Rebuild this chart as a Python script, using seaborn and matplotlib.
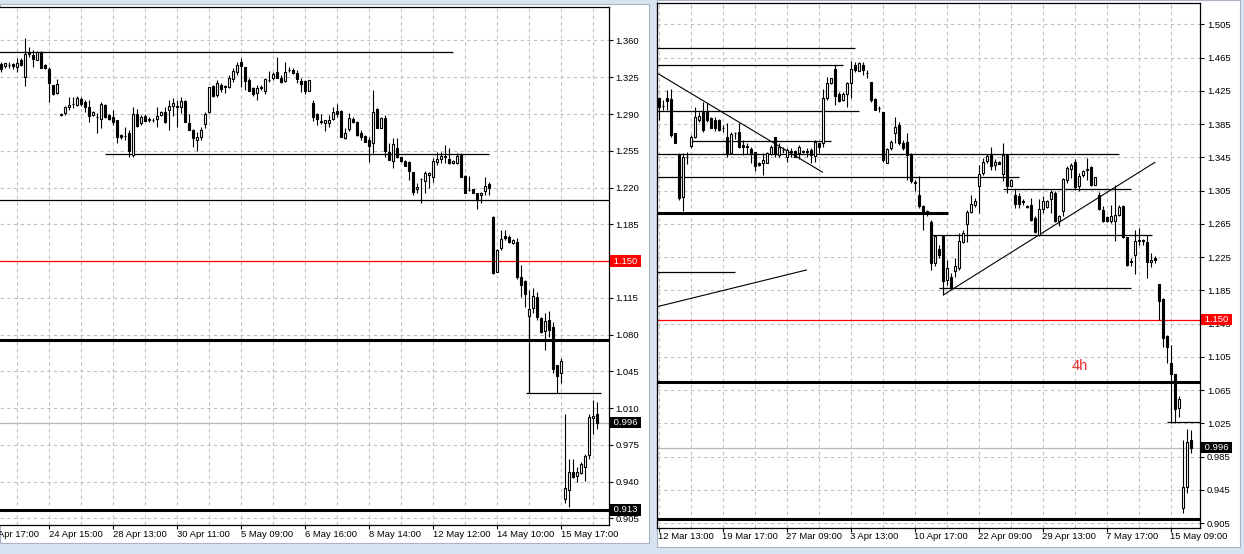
import numpy as np
import matplotlib
matplotlib.use("Agg")
import matplotlib.pyplot as plt
import matplotlib.transforms as mtransforms
from matplotlib.patches import Rectangle
import seaborn as sns

# --- Left window: hourly candles (index 0..149) ---
left_open = [
    1.3376, 1.3360, 1.3370, 1.3373, 1.3351, 1.3414, 1.3250, 1.3484, 1.3462, 1.3414,
    1.3488, 1.3367, 1.3329, 1.3176, 1.3100, 1.2888, 1.2907, 1.2964, 1.2995, 1.2983,
    1.3040, 1.3011, 1.2970, 1.2891, 1.2868, 1.2853, 1.2986, 1.2891, 1.2875, 1.2843,
    1.2700, 1.2694, 1.2716, 1.2510, 1.2897, 1.2811, 1.2881, 1.2850, 1.2840, 1.2850,
    1.2894, 1.2916, 1.2938, 1.2976, 1.2968, 1.2970, 1.3024, 1.2818, 1.2748, 1.2653,
    1.2684, 1.2802, 1.2916, 1.3170, 1.3081, 1.3176, 1.3162, 1.3161, 1.3230, 1.3303,
    1.3399, 1.3345, 1.3224, 1.3145, 1.3103, 1.3152, 1.3122, 1.3222, 1.3240, 1.3297,
    1.3246, 1.3215, 1.3318, 1.3316, 1.3294, 1.3215, 1.3215, 1.3119, 1.3002, 1.2900,
    1.2830, 1.2811, 1.2811, 1.2856, 1.2929, 1.2929, 1.2675, 1.2757, 1.2856, 1.2821,
    1.2716, 1.2691, 1.2653, 1.2621, 1.2948, 1.2770, 1.2859, 1.2542, 1.2453, 1.2573,
    1.2488, 1.2453, 1.2446, 1.2348, 1.2183, 1.2282, 1.2262, 1.2316, 1.2297, 1.2440,
    1.2469, 1.2494, 1.2472, 1.2430, 1.2430, 1.2519, 1.2310, 1.2178, 1.2186, 1.2145,
    1.2129, 1.2170, 1.2234, 1.1922, 1.1399, 1.1621, 1.1738, 1.1732, 1.1668, 1.1678,
    1.1351, 1.1309, 1.0976, 1.1049, 1.1160, 1.0954, 1.0836, 1.0938, 1.0868, 1.0509,
    1.0430, 0.9230, 0.9319, 0.9487, 0.9452, 0.9477, 0.9535, 0.9652, 1.0008, 1.0043,
]
left_high = [
    1.3399, 1.3390, 1.3399, 1.3390, 1.3430, 1.3430, 1.3621, 1.3541, 1.3510, 1.3500,
    1.3500, 1.3380, 1.3351, 1.3180, 1.3234, 1.2910, 1.2976, 1.3065, 1.3065, 1.3072,
    1.3060, 1.3034, 1.3034, 1.2930, 1.2907, 1.3018, 1.2995, 1.2900, 1.2938, 1.2845,
    1.2710, 1.2780, 1.2748, 1.2970, 1.2945, 1.2890, 1.2900, 1.2870, 1.2860, 1.2970,
    1.2930, 1.2970, 1.3034, 1.3049, 1.3034, 1.3065, 1.3030, 1.2897, 1.2760, 1.2732,
    1.2780, 1.2922, 1.3160, 1.3180, 1.3224, 1.3192, 1.3176, 1.3272, 1.3335, 1.3399,
    1.3430, 1.3351, 1.3240, 1.3155, 1.3176, 1.3176, 1.3240, 1.3313, 1.3303, 1.3446,
    1.3272, 1.3399, 1.3351, 1.3335, 1.3319, 1.3240, 1.3224, 1.3224, 1.3034, 1.2907,
    1.2897, 1.2845, 1.2891, 1.2970, 1.2995, 1.2935, 1.2764, 1.2907, 1.2870, 1.2830,
    1.2748, 1.2700, 1.2684, 1.3129, 1.2955, 1.2870, 1.2891, 1.2621, 1.2669, 1.2669,
    1.2495, 1.2460, 1.2450, 1.2350, 1.2246, 1.2288, 1.2357, 1.2350, 1.2478, 1.2542,
    1.2542, 1.2605, 1.2573, 1.2460, 1.2526, 1.2526, 1.2315, 1.2310, 1.2190, 1.2150,
    1.2155, 1.2297, 1.2256, 1.1929, 1.1610, 1.1795, 1.1795, 1.1748, 1.1710, 1.1716,
    1.1462, 1.1319, 1.1224, 1.1239, 1.1208, 1.0970, 1.1001, 1.1027, 1.0922, 1.0510,
    1.0573, 1.0043, 0.9611, 0.9611, 0.9541, 0.9589, 0.9662, 1.0043, 1.0176, 1.0160,
]
left_low = [
    1.3303, 1.3335, 1.3335, 1.3330, 1.3303, 1.3360, 1.3170, 1.3446, 1.3351, 1.3410,
    1.3340, 1.3330, 1.3018, 1.3081, 1.3091, 1.2880, 1.2891, 1.2938, 1.2954, 1.2976,
    1.2980, 1.2922, 1.2827, 1.2880, 1.2722, 1.2770, 1.2860, 1.2840, 1.2796, 1.2621,
    1.2660, 1.2653, 1.2494, 1.2488, 1.2780, 1.2800, 1.2830, 1.2820, 1.2820, 1.2780,
    1.2880, 1.2811, 1.2748, 1.2881, 1.2780, 1.2907, 1.2825, 1.2745, 1.2589, 1.2551,
    1.2653, 1.2770, 1.2910, 1.3060, 1.3065, 1.3113, 1.3097, 1.3145, 1.3208, 1.3272,
    1.3154, 1.3129, 1.3118, 1.3072, 1.3034, 1.3129, 1.3091, 1.3208, 1.3224, 1.3240,
    1.3199, 1.3208, 1.3303, 1.3281, 1.3192, 1.3113, 1.3091, 1.3116, 1.2837, 1.2796,
    1.2805, 1.2742, 1.2773, 1.2843, 1.2868, 1.2680, 1.2659, 1.2742, 1.2815, 1.2695,
    1.2653, 1.2630, 1.2446, 1.2526, 1.2765, 1.2765, 1.2494, 1.2460, 1.2383, 1.2478,
    1.2445, 1.2405, 1.2272, 1.2129, 1.2145, 1.2049, 1.2145, 1.2192, 1.2256, 1.2415,
    1.2430, 1.2430, 1.2428, 1.2425, 1.2428, 1.2300, 1.2148, 1.2170, 1.2148, 1.1992,
    1.2049, 1.2129, 1.2129, 1.1377, 1.1395, 1.1605, 1.1700, 1.1668, 1.1660, 1.1330,
    1.1160, 1.1065, 1.0970, 1.1001, 1.0938, 1.0811, 1.0652, 1.0779, 1.0430, 1.0246,
    1.0335, 0.9192, 0.9154, 0.9430, 0.9392, 0.9471, 0.9408, 0.9611, 0.9852, 0.9897,
]
left_close = [
    1.3326, 1.3383, 1.3365, 1.3354, 1.3389, 1.3367, 1.3469, 1.3469, 1.3421, 1.3488,
    1.3342, 1.3342, 1.3192, 1.3091, 1.3183, 1.2903, 1.2964, 1.2983, 1.2998, 1.3049,
    1.2992, 1.2970, 1.2884, 1.2916, 1.2871, 1.2992, 1.2868, 1.2853, 1.2827, 1.2678,
    1.2678, 1.2690, 1.2551, 1.2897, 1.2786, 1.2875, 1.2837, 1.2847, 1.2846, 1.2884,
    1.2916, 1.2827, 1.2980, 1.3002, 1.2972, 1.3024, 1.2827, 1.2748, 1.2669, 1.2684,
    1.2748, 1.2900, 1.3154, 1.3072, 1.3192, 1.3135, 1.3160, 1.3240, 1.3313, 1.3364,
    1.3361, 1.3215, 1.3122, 1.3091, 1.3151, 1.3156, 1.3234, 1.3226, 1.3278, 1.3246,
    1.3208, 1.3297, 1.3320, 1.3288, 1.3230, 1.3183, 1.3122, 1.3221, 1.2875, 1.2850,
    1.2827, 1.2843, 1.2843, 1.2922, 1.2897, 1.2684, 1.2716, 1.2859, 1.2821, 1.2700,
    1.2678, 1.2637, 1.2599, 1.2922, 1.2770, 1.2859, 1.2548, 1.2462, 1.2615, 1.2488,
    1.2449, 1.2408, 1.2357, 1.2157, 1.2208, 1.2280, 1.2335, 1.2341, 1.2456, 1.2472,
    1.2500, 1.2503, 1.2430, 1.2453, 1.2503, 1.2303, 1.2151, 1.2176, 1.2151, 1.2088,
    1.2151, 1.2218, 1.2192, 1.1383, 1.1605, 1.1707, 1.1716, 1.1684, 1.1700, 1.1345,
    1.1271, 1.1182, 1.1043, 1.1166, 1.0970, 1.0827, 1.0928, 1.0843, 1.0471, 1.0404,
    1.0547, 0.9335, 0.9487, 0.9439, 0.9487, 0.9563, 0.9643, 1.0017, 1.0023, 0.9954,
]
left_tick_pos = [-4, 12, 28, 44, 60, 76, 92, 108, 124, 140]
left_tick_labels = ['22 Apr 17:00', '24 Apr 15:00', '28 Apr 13:00', '30 Apr 11:00',
                    '5 May 09:00', '6 May 16:00', '8 May 14:00', '12 May 12:00',
                    '14 May 10:00', '15 May 17:00']
left_price_ticks = [1.360, 1.325, 1.290, 1.255, 1.220, 1.185, 1.150, 1.115,
                    1.080, 1.045, 1.010, 0.975, 0.940, 0.905]
# (price, from bar, to bar)
left_thin_levels = [(1.3488, -1, 112.8), (1.2516, 25.9, 121.9), (1.2078, -1, 153),
                    (1.0246, 131.1, 149.8)]
left_thick_levels = [1.075, 0.913]

# --- Right window: 4h candles (index 0..133) ---
right_open = [
    1.4169, 1.4070, 1.4169, 1.4153, 1.3740, 1.3480, 1.2972, 1.3450, 1.3588, 1.3700,
    1.3901, 1.4001, 1.4009, 1.3921, 1.3901, 1.3901, 1.3802, 1.3700, 1.3508, 1.3740,
    1.3760, 1.3600, 1.3582, 1.3548, 1.3512, 1.3380, 1.3388, 1.3388, 1.3492, 1.3692,
    1.3480, 1.3542, 1.3460, 1.3522, 1.3528, 1.3500, 1.3520, 1.3522, 1.3540, 1.3468,
    1.3628, 1.3620, 1.4161, 1.4341, 1.4513, 1.4213, 1.4141, 1.4209, 1.4349, 1.4561,
    1.4493, 1.4561, 1.4461, 1.4353, 1.4153, 1.4041, 1.3993, 1.3388, 1.3560, 1.3748,
    1.3840, 1.3620, 1.3640, 1.3492, 1.3148, 1.3000, 1.2868, 1.2808, 1.2677, 1.2184,
    1.2348, 1.2505, 1.1980, 1.2008, 1.2088, 1.2116, 1.2437, 1.2645, 1.2789, 1.2878,
    1.3108, 1.3260, 1.3412, 1.3492, 1.3360, 1.3400, 1.3252, 1.3480, 1.3108, 1.3000,
    1.2988, 1.2922, 1.2862, 1.2872, 1.2719, 1.2519, 1.2828, 1.2852, 1.2948, 1.3020,
    1.2679, 1.2800, 1.3180, 1.3308, 1.3392, 1.3108, 1.3240, 1.3300, 1.3328, 1.3120,
    1.3000, 1.2812, 1.2731, 1.2679, 1.2679, 1.2759, 1.2860, 1.2491, 1.2199, 1.2271,
    1.2449, 1.2453, 1.2427, 1.2187, 1.2239, 1.1927, 1.1743, 1.1302, 1.0974, 1.0845,
    1.0432, 0.9230, 0.9483, 1.0052,
]
right_high = [
    1.4181, 1.4141, 1.4261, 1.4269, 1.3745, 1.3500, 1.3500, 1.3520, 1.3720, 1.4061,
    1.4001, 1.4121, 1.4101, 1.3930, 1.3941, 1.3910, 1.3841, 1.3861, 1.3760, 1.3760,
    1.3861, 1.3660, 1.3620, 1.3580, 1.3520, 1.3390, 1.3500, 1.3520, 1.3600, 1.3700,
    1.3628, 1.3580, 1.3560, 1.3560, 1.3540, 1.3600, 1.3540, 1.3560, 1.3560, 1.3660,
    1.3640, 1.4269, 1.4421, 1.4410, 1.4561, 1.4241, 1.4230, 1.4361, 1.4609, 1.4593,
    1.4600, 1.4601, 1.4501, 1.4361, 1.4160, 1.4069, 1.4001, 1.3560, 1.3660, 1.3933,
    1.3881, 1.3660, 1.3748, 1.3500, 1.3180, 1.3228, 1.2880, 1.2820, 1.2699, 1.2510,
    1.2399, 1.2510, 1.2220, 1.2056, 1.2236, 1.2537, 1.2577, 1.2817, 1.2998, 1.2958,
    1.3352, 1.3440, 1.3492, 1.3580, 1.3428, 1.3410, 1.3620, 1.3492, 1.3190, 1.3072,
    1.3020, 1.2948, 1.2880, 1.2960, 1.2739, 1.2952, 1.2980, 1.2935, 1.3060, 1.3040,
    1.2755, 1.3200, 1.3340, 1.3380, 1.3428, 1.3260, 1.3300, 1.3440, 1.3340, 1.3215,
    1.3028, 1.2860, 1.2739, 1.2880, 1.3120, 1.2880, 1.2880, 1.2495, 1.2239, 1.2579,
    1.2599, 1.2467, 1.2519, 1.2299, 1.2259, 1.1930, 1.1755, 1.1314, 1.1194, 1.0850,
    1.0581, 1.0052, 1.0180, 1.0172,
]
right_low = [
    1.3901, 1.4021, 1.4021, 1.3700, 1.3620, 1.2940, 1.2800, 1.3372, 1.3560, 1.3680,
    1.3881, 1.3760, 1.3881, 1.3800, 1.3772, 1.3770, 1.3760, 1.3460, 1.3500, 1.3668,
    1.3560, 1.3480, 1.3492, 1.3380, 1.3280, 1.3340, 1.3240, 1.3380, 1.3480, 1.3460,
    1.3460, 1.3500, 1.3400, 1.3460, 1.3450, 1.3428, 1.3500, 1.3460, 1.3388, 1.3400,
    1.3500, 1.3580, 1.4141, 1.4330, 1.4081, 1.4121, 1.4130, 1.4061, 1.4161, 1.4481,
    1.4485, 1.4441, 1.4401, 1.4121, 1.4015, 1.4001, 1.3400, 1.3380, 1.3540, 1.3620,
    1.3600, 1.3540, 1.3180, 1.3140, 1.3040, 1.2840, 1.2579, 1.2747, 1.2095, 1.2139,
    1.2239, 1.1800, 1.1920, 1.1870, 1.2016, 1.2096, 1.2416, 1.2437, 1.2777, 1.2857,
    1.2779, 1.3240, 1.3380, 1.3300, 1.3300, 1.3365, 1.3160, 1.3020, 1.3100, 1.2840,
    1.2840, 1.2880, 1.2840, 1.2679, 1.2539, 1.2507, 1.2779, 1.2845, 1.2779, 1.2667,
    1.2619, 1.2739, 1.3140, 1.3200, 1.3060, 1.3040, 1.3212, 1.3180, 1.3108, 1.3115,
    1.2820, 1.2667, 1.2667, 1.2659, 1.2439, 1.2747, 1.2479, 1.2147, 1.2139, 1.2051,
    1.2399, 1.2399, 1.1999, 1.2131, 1.2179, 1.1500, 1.1166, 1.0982, 1.0260, 1.0252,
    1.0332, 0.9170, 0.9410, 0.9899,
]
right_close = [
    1.4061, 1.4068, 1.4133, 1.3720, 1.3628, 1.2960, 1.3460, 1.3452, 1.3700, 1.3933,
    1.3949, 1.3780, 1.3901, 1.3808, 1.3800, 1.3780, 1.3798, 1.3500, 1.3732, 1.3742,
    1.3580, 1.3580, 1.3580, 1.3508, 1.3348, 1.3352, 1.3420, 1.3508, 1.3580, 1.3492,
    1.3580, 1.3540, 1.3540, 1.3520, 1.3460, 1.3580, 1.3522, 1.3520, 1.3480, 1.3640,
    1.3580, 1.4161, 1.4349, 1.4401, 1.4193, 1.4133, 1.4213, 1.4341, 1.4513, 1.4501,
    1.4589, 1.4501, 1.4459, 1.4141, 1.4021, 1.4039, 1.3420, 1.3548, 1.3640, 1.3812,
    1.3620, 1.3568, 1.3480, 1.3160, 1.3146, 1.2860, 1.2800, 1.2779, 1.2176, 1.2505,
    1.2276, 1.1960, 1.2120, 1.1875, 1.2144, 1.2445, 1.2545, 1.2789, 1.2889, 1.2925,
    1.3252, 1.3400, 1.3472, 1.3340, 1.3392, 1.3372, 1.3480, 1.3108, 1.3180, 1.2892,
    1.2884, 1.2918, 1.2858, 1.2691, 1.2551, 1.2832, 1.2928, 1.2920, 1.3028, 1.2679,
    1.2747, 1.3188, 1.3320, 1.3360, 1.3092, 1.3228, 1.3280, 1.3302, 1.3120, 1.3208,
    1.2832, 1.2679, 1.2679, 1.2739, 1.2759, 1.2852, 1.2491, 1.2159, 1.2187, 1.2439,
    1.2453, 1.2449, 1.2187, 1.2219, 1.2211, 1.1727, 1.1274, 1.1166, 1.0845, 1.0420,
    1.0541, 0.9491, 1.0032, 0.9952,
]
right_tick_pos = [0, 16, 32, 48, 64, 80, 96, 112, 128]
right_tick_labels = ['12 Mar 13:00', '19 Mar 17:00', '27 Mar 09:00', '3 Apr 13:00',
                     '10 Apr 17:00', '22 Apr 09:00', '29 Apr 13:00', '7 May 17:00',
                     '15 May 09:00']
right_price_ticks = [1.505, 1.465, 1.425, 1.385, 1.345, 1.305, 1.265, 1.225,
                     1.185, 1.145, 1.105, 1.065, 1.025, 0.985, 0.945, 0.905]
right_thin_levels = [(1.4761, -1, 48.9), (1.4561, -1, 45.9), (1.4007, -1, 50.0),
                     (1.3643, 8.2, 42.9), (1.3487, -1, 115.0), (1.3210, -1, 90.0),
                     (1.3066, 86.1, 118.0), (1.2515, 68.1, 123.2), (1.2068, -1, 19.0),
                     (1.1876, 70.0, 117.9), (1.0265, 127.1, 136)]
right_thick_levels = [(1.2777, -1, 72.2), (1.075, -1, 136), (0.910, -1, 136)]
# trend lines: (bar1, price1, bar2, price2)
right_trends = [(-0.4, 1.4461, 40.9, 1.3271), (-0.4, 1.1655, 36.9, 1.2096),
                (71.1, 1.1796, 124.0, 1.3391)]

support_level = 1.150
last_price = 0.996

# --- Style ---
sns.set_theme(style="white", rc={"axes.edgecolor": "black", "xtick.color": "black",
                                 "ytick.color": "black", "text.color": "black"})
plt.rcParams['font.family'] = ['Liberation Sans', 'DejaVu Sans']

W, H = 1244, 554
fig = plt.figure(figsize=(W / 100, H / 100), dpi=100)
fig.patch.set_facecolor('#d7e3f1')

# window frames
fig.add_artist(Rectangle((0, 1 - 543 / H), 649 / W, 539 / H, transform=fig.transFigure,
                         facecolor='white', edgecolor='#a8b4c4', lw=0.8, zorder=0))
fig.add_artist(Rectangle((657 / W, 1 - 547 / H), 583 / W, 547 / H, transform=fig.transFigure,
                         facecolor='white', edgecolor='#a8b4c4', lw=0.8, zorder=0))

ax_l = fig.add_axes([0, (H - 525) / H, 608.5 / W, 518 / H])
ax_r = fig.add_axes([657 / W, (H - 528) / H, 543 / W, 525 / H])

GRID = '#c0c0c0'
FS = 6.8


def draw_candles(ax, o, h, l, c):
    o, h, l, c = map(np.asarray, (o, h, l, c))
    x = np.arange(len(o))
    ax.vlines(x, l, h, color='black', lw=0.8, zorder=4)
    bull = c >= o
    bottom = np.minimum(o, c)
    height = np.maximum(np.abs(c - o), 0.0004)
    ax.bar(x[bull], height[bull], bottom=bottom[bull], width=0.55,
           facecolor='white', edgecolor='black', lw=0.8, zorder=5)
    ax.bar(x[~bull], height[~bull], bottom=bottom[~bull], width=0.55,
           facecolor='black', edgecolor='black', lw=0.8, zorder=5)


def setup_panel(ax, xlim, ylim, price_ticks, hidden, grid_x, tick_pos, tick_labels, label_y):
    ax.set_facecolor('white')
    ax.set_xlim(*xlim)
    ax.set_ylim(*ylim)
    ax.yaxis.tick_right()
    ax.set_yticks(price_ticks)
    # a price that has its own coloured box gets no plain label underneath
    ax.set_yticklabels(['' if v in hidden else f'{v:.3f}' for v in price_ticks])
    ax.tick_params(axis='y', length=3, width=0.8, pad=2, labelsize=FS, direction='out',
                   right=True, left=False)
    ax.set_xticks([p for p in tick_pos if p >= xlim[0]])
    ax.set_xticklabels([])
    ax.tick_params(axis='x', length=3, width=0.8, direction='out', bottom=True)
    for v in price_ticks:
        ax.axhline(v, color=GRID, lw=0.8, ls=(0, (3, 3)), zorder=0)
    for g in grid_x:
        ax.axvline(g, color=GRID, lw=0.8, ls=(0, (3, 3)), zorder=0)
    tr = ax.get_xaxis_transform()
    for p, lab in zip(tick_pos, tick_labels):
        ax.text(p - 0.2, label_y, lab, transform=tr, ha='left', va='center',
                fontsize=FS, clip_on=False)
    for s in ax.spines.values():
        s.set_color('black')
        s.set_linewidth(0.9)


def price_box(ax, y, text, color):
    tr = mtransforms.blended_transform_factory(ax.transAxes, ax.transData)
    ax.text(1.004, y, ' ' + text + ' ', transform=tr, ha='left', va='center',
            fontsize=FS, color='white', clip_on=False, zorder=10,
            bbox=dict(facecolor=color, edgecolor='none', boxstyle='square,pad=0.12'))


# --- Left panel ---
setup_panel(ax_l, (-0.33, 151.8), (0.8986, 1.3919), left_price_ticks, [support_level],
            np.arange(4, 152, 8), left_tick_pos, left_tick_labels, -0.018)
ax_l.spines['left'].set_visible(False)
for price, x0, x1 in left_thin_levels:
    ax_l.hlines(price, x0, x1, color='black', lw=0.9, zorder=2)
for price in left_thick_levels:
    ax_l.axhline(price, color='black', lw=2.2, zorder=2)
ax_l.axhline(support_level, color='red', lw=0.9, zorder=2)
ax_l.axhline(last_price, color='#b8b8b8', lw=0.9, zorder=1)
ax_l.vlines(132, 1.0246, 1.100, color='black', lw=0.9, zorder=2)
draw_candles(ax_l, left_open, left_high, left_low, left_close)
price_box(ax_l, support_level, '1.150', '#ff0000')
price_box(ax_l, last_price, '0.996', 'black')
price_box(ax_l, 0.913, '0.913', 'black')

# --- Right panel ---
setup_panel(ax_r, (-0.5, 135.25), (0.8993, 1.5306), right_price_ticks, [],
            np.arange(0, 136, 8), right_tick_pos, right_tick_labels, -0.0166)
for price, x0, x1 in right_thin_levels:
    ax_r.hlines(price, x0, x1, color='black', lw=0.9, zorder=2)
for price, x0, x1 in right_thick_levels:
    ax_r.hlines(price, x0, x1, color='black', lw=2.2, zorder=2)
for x0, y0, x1, y1 in right_trends:
    ax_r.plot([x0, x1], [y0, y1], color='black', lw=0.8, zorder=2)
ax_r.axhline(support_level, color='red', lw=0.9, zorder=2)
ax_r.axhline(last_price, color='#b8b8b8', lw=0.9, zorder=1)
draw_candles(ax_r, right_open, right_high, right_low, right_close)
ax_r.text(105.1, 1.094, '4h', color='#f02a2a', fontsize=10.5, ha='center', va='center')
price_box(ax_r, support_level, '1.150', '#ff0000')
price_box(ax_r, last_price, '0.996', 'black')

fig.savefig('out.png', dpi=100, facecolor=fig.get_facecolor())
